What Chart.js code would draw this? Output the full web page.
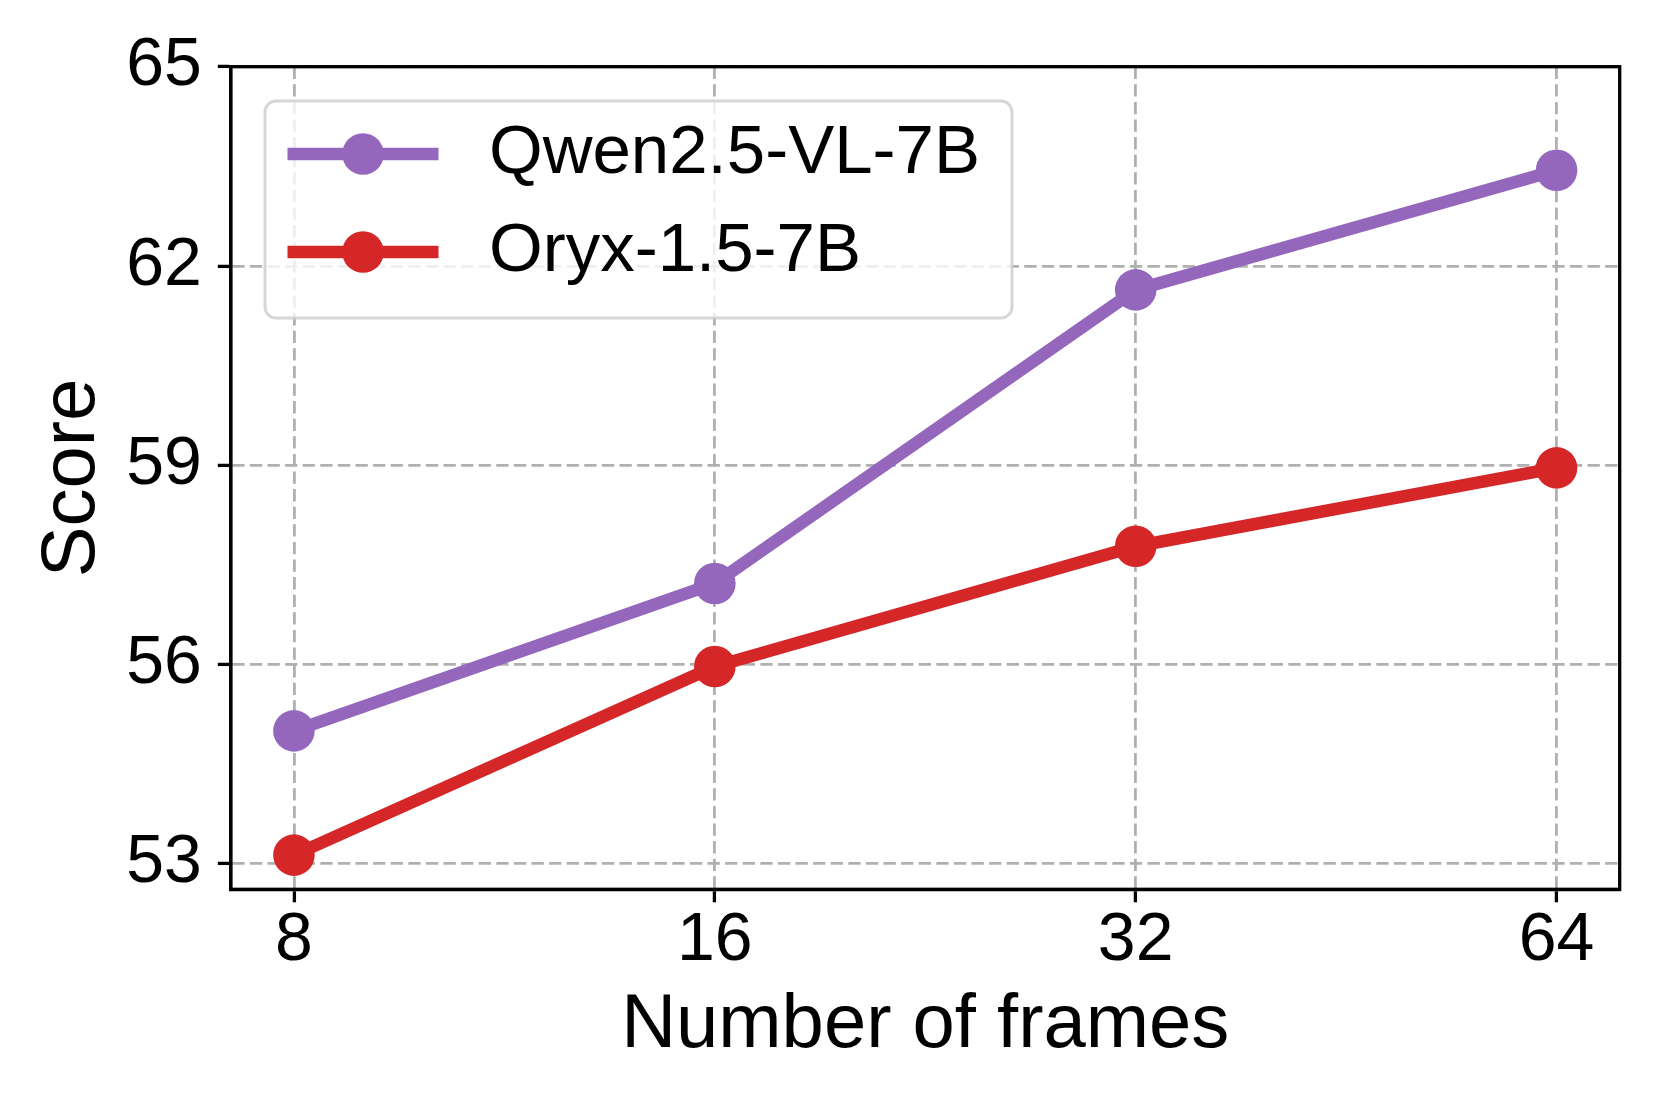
<!DOCTYPE html>
<html>
<head>
<meta charset="utf-8">
<script src="https://cdn.jsdelivr.net/npm/chart.js@4.4.1/dist/chart.umd.min.js"></script>
<style>
  html, body { margin: 0; padding: 0; background: #ffffff; overflow: hidden; }
  #wrap { width: 1661px; height: 1107px; }
</style>
</head>
<body>
<div id="wrap"><canvas id="c" width="1661" height="1107"></canvas></div>
<script>
// ---- data ----
const frames = ['8', '16', '32', '64'];
const seriesNames = ['Qwen2.5-VL-7B', 'Oryx-1.5-7B'];
const qwenScores = [55.0, 57.22, 61.64, 63.44];
const oryxScores = [53.13, 55.97, 57.78, 58.96];
const yTicks = [53, 56, 59, 62, 65];
const xTitle = 'Number of frames';
const yTitle = 'Score';

const colors = ['#9467bd', '#d62728'];
const FONT = "'Liberation Sans', Arial, Helvetica, sans-serif";

// chart area geometry (pixels)
const AREA = { left: 230.8, right: 1619.7, top: 66.7, bottom: 889.3 };
const W = 1661, H = 1107;

function toPoints(arr) { return arr.map((v, i) => ({ x: i, y: v })); }

const framePlugin = {
  id: 'frame',
  afterDatasetsDraw(chart) {
    const { ctx, chartArea: a } = chart;
    ctx.save();
    ctx.strokeStyle = '#000000';
    ctx.lineWidth = 3.3;
    ctx.strokeRect(a.left, a.top, a.right - a.left, a.bottom - a.top);
    ctx.restore();
  }
};

const legendPlugin = {
  id: 'mplLegend',
  afterDraw(chart) {
    const ctx = chart.ctx;
    const box = { x: 265, y: 101, w: 747, h: 217, r: 11 };
    ctx.save();
    ctx.beginPath();
    ctx.roundRect(box.x, box.y, box.w, box.h, box.r);
    ctx.fillStyle = 'rgba(255,255,255,0.8)';
    ctx.fill();
    ctx.lineWidth = 3;
    ctx.strokeStyle = 'rgba(204,204,204,0.8)';
    ctx.stroke();
    const rows = [154, 252];
    chart.data.datasets.forEach((ds, i) => {
      const y = rows[i];
      ctx.beginPath();
      ctx.moveTo(287.5, y);
      ctx.lineTo(438.5, y);
      ctx.strokeStyle = ds.borderColor;
      ctx.lineWidth = ds.borderWidth;
      ctx.lineCap = 'butt';
      ctx.stroke();
      ctx.beginPath();
      ctx.arc(363, y, ds.pointRadius, 0, Math.PI * 2);
      ctx.fillStyle = ds.pointBackgroundColor;
      ctx.fill();
      ctx.fillStyle = '#000000';
      ctx.font = '69px ' + FONT;
      ctx.textAlign = 'left';
      ctx.textBaseline = 'middle';
      ctx.fillText(ds.label, 489, y);
    });
    ctx.restore();
  }
};

const scores = [qwenScores, oryxScores];
const datasets = scores.map((s, i) => ({
  label: seriesNames[i],
  data: toPoints(s),
  borderColor: colors[i],
  backgroundColor: colors[i],
  pointBackgroundColor: colors[i],
  pointBorderColor: colors[i],
  borderWidth: 12.5,
  pointRadius: 20.8,
  pointHoverRadius: 20.8,
  pointBorderWidth: 0,
  borderJoinStyle: 'round',
  tension: 0,
  fill: false
}));

new Chart(document.getElementById('c'), {
  type: 'line',
  data: { datasets },
  options: {
    responsive: false,
    animation: false,
    devicePixelRatio: 1,
    layout: { padding: { left: 0, top: AREA.top, right: W - AREA.right, bottom: 0 } },
    plugins: { legend: { display: false }, tooltip: { enabled: false } },
    scales: {
      x: {
        type: 'linear',
        position: 'bottom',
        min: -0.15,
        max: frames.length - 1 + 0.15,
        afterBuildTicks: (s) => { s.ticks = frames.map((_, i) => ({ value: i })); },
        afterFit: (s) => { s.height = H - AREA.bottom; },
        ticks: {
          color: '#000000',
          font: { family: FONT, size: 68, lineHeight: 1 },
          padding: 5,
          maxRotation: 0,
          autoSkip: false,
          callback: (v) => frames[v]
        },
        grid: {
          color: '#b0b0b0',
          lineWidth: 2.8,
          tickColor: '#000000',
          tickWidth: 3.3,
          tickLength: 13,
          tickBorderDash: []
        },
        border: { display: true, color: '#000000', width: 3.3, dash: [12.3, 5.3] },
        title: {
          display: true,
          text: xTitle,
          color: '#000000',
          font: { family: FONT, size: 76, lineHeight: 1.2 },
          padding: { top: 0, bottom: 35 }
        }
      },
      y: {
        type: 'linear',
        position: 'left',
        min: 52.615,
        max: 65,
        afterBuildTicks: (s) => { s.ticks = yTicks.map(v => ({ value: v })); },
        afterFit: (s) => { s.width = AREA.left; },
        ticks: {
          color: '#000000',
          font: { family: FONT, size: 68, lineHeight: 1 },
          padding: 16,
          autoSkip: false
        },
        grid: {
          color: '#b0b0b0',
          lineWidth: 2.8,
          tickColor: '#000000',
          tickWidth: 3.3,
          tickLength: 13,
          tickBorderDash: []
        },
        border: { display: true, color: '#000000', width: 3.3, dash: [12.3, 5.3] },
        title: {
          display: true,
          text: yTitle,
          color: '#000000',
          font: { family: FONT, size: 76, lineHeight: 1.2 },
          padding: { top: 27.5, bottom: 0 }
        }
      }
    }
  },
  plugins: [framePlugin, legendPlugin]
});
</script>
</body>
</html>
